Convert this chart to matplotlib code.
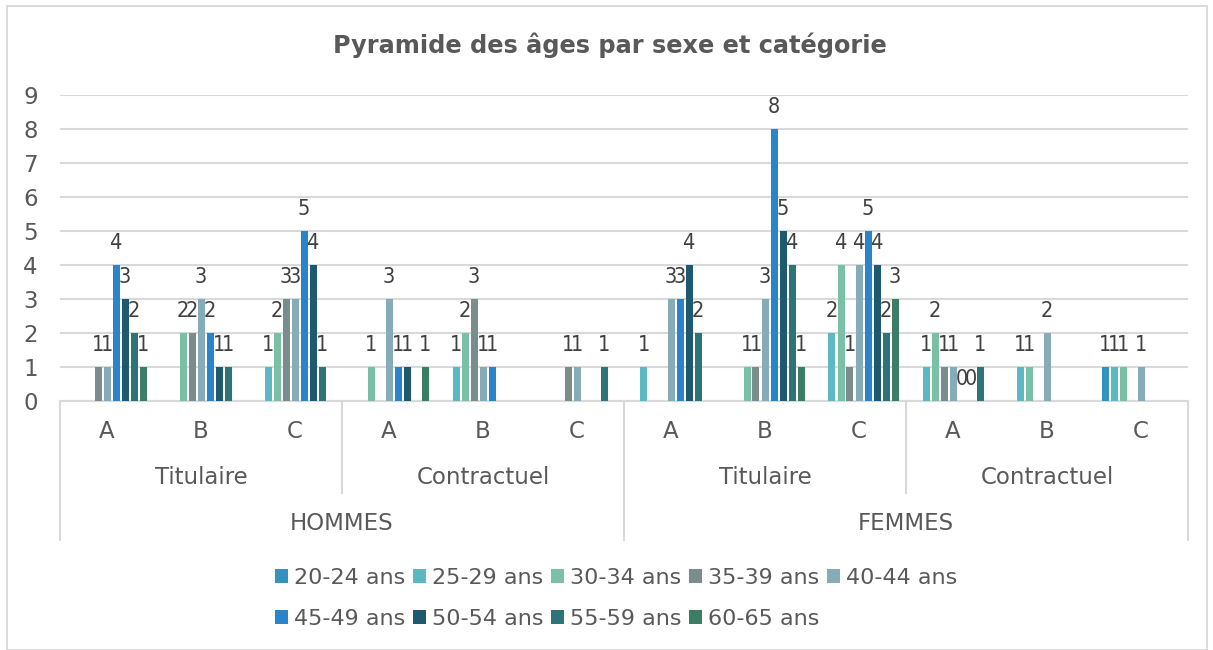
import numpy as np
import matplotlib
matplotlib.use("Agg")
import matplotlib.pyplot as plt
from matplotlib.patches import Rectangle
from matplotlib.lines import Line2D

plt.rcParams['font.family'] = ['DejaVu Sans']

# ---- data ----
sexes = ["HOMMES", "FEMMES"]
statuts = ["Titulaire", "Contractuel"]
cats = ["A", "B", "C"]
series_names = ["20-24 ans", "25-29 ans", "30-34 ans", "35-39 ans", "40-44 ans",
                "45-49 ans", "50-54 ans", "55-59 ans", "60-65 ans"]
n = np.nan
v_20_24 = [n, n, n, n, n, n, n, n, n, n, n, 1]
v_25_29 = [n, n, 1, n, 1, n, 1, n, 2, 1, 1, 1]
v_30_34 = [n, 2, 2, 1, 2, n, n, 1, 4, 2, 1, 1]
v_35_39 = [1, 2, 3, n, 3, 1, n, 1, 1, 1, n, n]
v_40_44 = [1, 3, 3, 3, 1, 1, 3, 3, 4, 1, 2, 1]
v_45_49 = [4, 2, 5, 1, 1, n, 3, 8, 5, 0, n, n]
v_50_54 = [3, 1, 4, 1, n, n, 4, 5, 4, 0, n, n]
v_55_59 = [2, 1, 1, n, n, 1, 2, 4, 2, 1, n, n]
v_60_65 = [1, n, n, 1, n, n, n, 1, 3, n, n, n]
all_values = [v_20_24, v_25_29, v_30_34, v_35_39, v_40_44,
              v_45_49, v_50_54, v_55_59, v_60_65]
colors = ["#3592BC", "#5CB8C2", "#7AC0A6", "#7B8C8D", "#86ACB8",
          "#2A84CA", "#1F5970", "#2D7378", "#3C7D66"]

title = "Pyramide des âges par sexe et catégorie"

# ---- figure ----
W, H = 1213, 650
fig = plt.figure(figsize=(W / 100, H / 100), dpi=100)
fig.patch.set_facecolor("white")

# chart-area border
fig.add_artist(Rectangle((7 / W, 0), 1200 / W, 1 - 6 / H, transform=fig.transFigure,
                         fill=False, edgecolor="#D9D9D9", linewidth=1.3))

ax = fig.add_axes([60 / W, 1 - 401 / H, 1128 / W, 306 / H])
text_col = "#595959"
label_col = "#404040"
grid_col = "#D9D9D9"
fs = 16.5

ngroups = len(sexes) * len(statuts) * len(cats)
x = np.arange(ngroups)
nser = len(series_names)
slot = 9 / 94
bw = 7 / 94
handles = []
for i, (name, vals, c) in enumerate(zip(series_names, all_values, colors)):
    vals = np.array(vals, dtype=float)
    xs = x + (i - (nser - 1) / 2) * slot
    mask = ~np.isnan(vals)
    bars = ax.bar(xs[mask], vals[mask], width=bw, color=c, label=name, zorder=3)
    handles.append(bars)
    for xb, vb in zip(xs[mask], vals[mask]):
        ax.annotate(f"{int(vb)}", (xb, vb), xytext=(0, 11.5), textcoords="offset points",
                    ha="center", va="baseline", fontsize=15.5, color=label_col, zorder=4,
                    fontstretch="condensed")

ax.set_xlim(-0.5, ngroups - 0.5)
ax.set_ylim(0, 9)
ax.set_yticks(range(0, 10))
ax.yaxis.grid(True, color=grid_col, linewidth=1.5, zorder=0)
ax.set_axisbelow(True)
for s in ["top", "right", "left"]:
    ax.spines[s].set_visible(False)
ax.spines["bottom"].set_color(grid_col)
ax.spines["bottom"].set_linewidth(1.5)
ax.tick_params(axis="y", length=0, pad=16, labelsize=fs, labelcolor=text_col)
ax.tick_params(axis="x", length=0, pad=14, labelsize=fs, labelcolor=text_col)
ax.set_xticks(x)
ax.set_xticklabels(cats * (len(sexes) * len(statuts)))

# multi-level category axis
tr = ax.get_xaxis_transform()
ah = 306.0
y_lvl2 = -77 / ah
y_lvl3 = -122 / ah
y_sep2 = -92 / ah
y_sep3 = -139 / ah
ncat = len(cats)
k = 0
for si, sx in enumerate(sexes):
    for ti, st in enumerate(statuts):
        start = k * ncat
        ax.text(start + (ncat - 1) / 2, y_lvl2, st, transform=tr, ha="center", va="center",
                fontsize=fs, color=text_col, clip_on=False)
        k += 1
    start = si * len(statuts) * ncat
    end = start + len(statuts) * ncat
    ax.text((start + end - 1) / 2, y_lvl3, sx, transform=tr, ha="center", va="center",
            fontsize=fs, color=text_col, clip_on=False)

bounds_long = [i * len(statuts) * ncat - 0.5 for i in range(len(sexes) + 1)]
bounds_short = [i * ncat - 0.5 for i in range(len(sexes) * len(statuts) + 1)
                if (i * ncat - 0.5) not in bounds_long]
for b in bounds_long:
    ax.add_line(Line2D([b, b], [0, y_sep3], transform=tr, color=grid_col, linewidth=1.5,
                       clip_on=False))
for b in bounds_short:
    ax.add_line(Line2D([b, b], [0, y_sep2], transform=tr, color=grid_col, linewidth=1.5,
                       clip_on=False))

# title
fig.text(610 / W, 1 - 45 / H, title, ha="center", va="center", fontsize=17.3,
         fontweight="bold", color=text_col)

# legend (row-wise order: 5 on first row, 4 on second)
ncol = 5
nrow = int(np.ceil(nser / ncol))
order = []
for j in range(ncol):
    for r in range(nrow):
        idx = r * ncol + j
        if idx < nser:
            order.append(idx)
leg = fig.legend([handles[i] for i in order], [series_names[i] for i in order],
                 loc="upper center", bbox_to_anchor=(616 / W, 1 - 557 / H), ncol=ncol,
                 frameon=False, fontsize=16, handlelength=0.6, handleheight=0.6,
                 handletextpad=0.25, columnspacing=0.35, labelspacing=0.92, borderpad=0)
for t in leg.get_texts():
    t.set_color(text_col)

fig.savefig("out.png", dpi=100, facecolor="white")
